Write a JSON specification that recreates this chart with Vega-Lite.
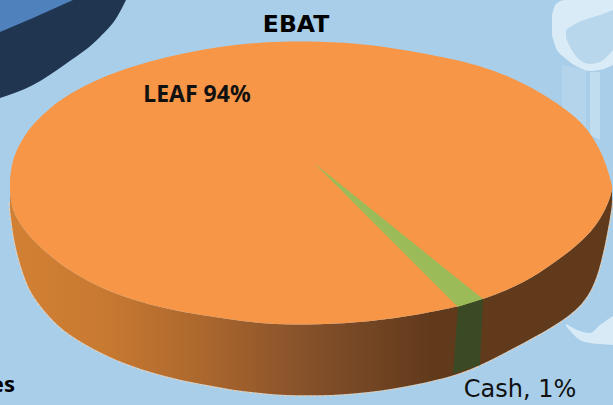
{
"$schema":"https://vega.github.io/schema/vega-lite/v6.json",
"width":613,"height":405,"padding":0,"autosize":{"type":"none"},
"background":"#A9CEE9",
"config":{"view":{"stroke":null}},
"datasets":{
"pie":[
{"x":10,"top":185,"bottom":185,"base":203},
{"x":10,"top":178,"bottom":192,"base":210},
{"x":11,"top":170,"bottom":200,"base":218},
{"x":13,"top":160,"bottom":210,"base":234},
{"x":17,"top":149,"bottom":219,"base":254},
{"x":25,"top":135,"bottom":231,"base":280},
{"x":33,"top":124,"bottom":240,"base":297},
{"x":50,"top":108,"bottom":256,"base":318},
{"x":67,"top":95,"bottom":269,"base":334},
{"x":100,"top":78,"bottom":288,"base":353},
{"x":133,"top":66,"bottom":300,"base":367},
{"x":167,"top":57,"bottom":309,"base":377},
{"x":200,"top":50,"bottom":315,"base":384},
{"x":233,"top":45,"bottom":320,"base":390},
{"x":267,"top":42,"bottom":324,"base":394},
{"x":306,"top":41,"bottom":325,"base":396},
{"x":356,"top":43,"bottom":323,"base":394},
{"x":406,"top":50,"bottom":317,"base":387},
{"x":458,"top":60,"bottom":307,"base":375},
{"x":483,"top":67,"bottom":299,"base":364},
{"x":506,"top":75,"bottom":291,"base":352},
{"x":539,"top":91,"bottom":274,"base":335},
{"x":573,"top":114,"bottom":249,"base":314},
{"x":589,"top":131,"bottom":234,"base":296},
{"x":599,"top":148,"bottom":221,"base":272},
{"x":606,"top":164,"bottom":208,"base":240},
{"x":610,"top":178,"bottom":198,"base":218},
{"x":612,"top":186,"bottom":190,"base":205},
{"x":612,"top":188,"bottom":188,"base":200}
],
"cashTop":[{"x":314,"a":163,"b":163},{"x":458,"a":279,"b":307},{"x":483,"a":299,"b":299}],
"cashSide":[{"x":453,"a":374,"b":374},{"x":458,"a":307,"b":372},{"x":480,"a":300,"b":365},{"x":483,"a":299,"b":299}],
"navy":[{"x":0,"a":0,"b":98},{"x":33,"a":0,"b":85},{"x":67,"a":0,"b":63},{"x":100,"a":0,"b":37},{"x":117,"a":0,"b":17},{"x":126,"a":0,"b":0}],
"blue":[{"x":0,"a":0,"b":32},{"x":33,"a":0,"b":18},{"x":73,"a":0,"b":0}],
"glass":[{"x":552,"a":15,"b":35},{"x":556,"a":4,"b":48},{"x":565,"a":0,"b":58},{"x":580,"a":0,"b":68},{"x":590,"a":0,"b":71},{"x":600,"a":0,"b":70},{"x":613,"a":0,"b":65}],
"inner":[{"x":566,"a":30,"b":38},{"x":575,"a":24,"b":55},{"x":590,"a":18,"b":64},{"x":600,"a":15,"b":62},{"x":613,"a":10,"b":50}],
"stem":[{"x":590,"a":72,"b":135},{"x":600,"a":72,"b":140}],
"stemFaint":[{"x":562,"a":65,"b":110},{"x":586,"a":70,"b":132}],
"swoosh":[{"x":566,"a":324,"b":326},{"x":580,"a":331,"b":340},{"x":590,"a":333,"b":343},{"x":600,"a":325,"b":344},{"x":613,"a":316,"b":345}]
},
"encoding":{
"x":{"field":"x","type":"quantitative","axis":null,"scale":{"domain":[0,613],"nice":false,"zero":false}}
},
"layer":[
{"data":{"name":"stemFaint"},"mark":{"type":"area","color":"#B3D4EB"},"encoding":{"y":{"field":"a","type":"quantitative","axis":null,"scale":{"domain":[405,0],"nice":false,"zero":false}},"y2":{"field":"b"}}},
{"data":{"name":"stem"},"mark":{"type":"area","color":"#C0DCEF"},"encoding":{"y":{"field":"a","type":"quantitative"},"y2":{"field":"b"}}},
{"data":{"name":"glass"},"mark":{"type":"area","color":"#D9EBF6","interpolate":"monotone"},"encoding":{"y":{"field":"a","type":"quantitative"},"y2":{"field":"b"}}},
{"data":{"name":"inner"},"mark":{"type":"area","color":"#B9D7EC","interpolate":"monotone"},"encoding":{"y":{"field":"a","type":"quantitative"},"y2":{"field":"b"}}},
{"data":{"name":"swoosh"},"mark":{"type":"area","color":"#D8EAF6","interpolate":"monotone"},"encoding":{"y":{"field":"a","type":"quantitative"},"y2":{"field":"b"}}},
{"data":{"name":"navy"},"mark":{"type":"area","color":"#1F3550","interpolate":"monotone"},"encoding":{"y":{"field":"a","type":"quantitative"},"y2":{"field":"b"}}},
{"data":{"name":"blue"},"mark":{"type":"area","color":"#4F81BD","interpolate":"monotone"},"encoding":{"y":{"field":"a","type":"quantitative"},"y2":{"field":"b"}}},
{"data":{"name":"pie"},"mark":{"type":"line","color":"#E9CDB0","strokeWidth":2.5,"strokeDash":[3,2],"interpolate":"basis"},"encoding":{"y":{"field":"base","type":"quantitative"}}},
{"data":{"name":"pie"},"mark":{"type":"area","interpolate":"basis","color":{"gradient":"linear","x1":0,"y1":0,"x2":1,"y2":0,"stops":[{"offset":0,"color":"#D28033"},{"offset":0.15,"color":"#C97A31"},{"offset":0.33,"color":"#AA662D"},{"offset":0.5,"color":"#84502A"},{"offset":0.7,"color":"#613A1C"},{"offset":1,"color":"#613A1C"}]}},"encoding":{"y":{"field":"bottom","type":"quantitative"},"y2":{"field":"base"}}},
{"data":{"name":"pie"},"mark":{"type":"area","color":"#F79646","interpolate":"basis"},"encoding":{"y":{"field":"top","type":"quantitative"},"y2":{"field":"bottom"}}},
{"data":{"name":"cashTop"},"mark":{"type":"area","color":"#9BBB59"},"encoding":{"y":{"field":"a","type":"quantitative"},"y2":{"field":"b"}}},
{"data":{"name":"cashSide"},"mark":{"type":"area","color":"#3A4A24"},"encoding":{"y":{"field":"a","type":"quantitative"},"y2":{"field":"b"}}},
{"data":{"values":[{"label":"EBAT","x":296,"y":32}]},"mark":{"type":"text","font":"DejaVu Sans","fontWeight":"bold","fontSize":23.5,"color":"#000000","baseline":"alphabetic","align":"center"},"encoding":{"y":{"field":"y","type":"quantitative"},"text":{"field":"label"}}},
{"data":{"values":[{"label":"LEAF 94%","x":197,"y":102}]},"mark":{"type":"text","font":"Noto Sans","fontWeight":"bold","fontSize":23,"color":"#111111","baseline":"alphabetic","align":"center"},"encoding":{"y":{"field":"y","type":"quantitative"},"text":{"field":"label"}}},
{"data":{"values":[{"label":"Cash, 1%","x":520,"y":397}]},"mark":{"type":"text","font":"DejaVu Sans","fontSize":24,"color":"#111111","baseline":"alphabetic","align":"center"},"encoding":{"y":{"field":"y","type":"quantitative"},"text":{"field":"label"}}},
{"data":{"values":[{"label":"es","x":15,"y":392}]},"mark":{"type":"text","font":"Noto Sans","fontWeight":"bold","fontSize":22,"color":"#000000","baseline":"alphabetic","align":"right"},"encoding":{"y":{"field":"y","type":"quantitative"},"text":{"field":"label"}}}
]
}
